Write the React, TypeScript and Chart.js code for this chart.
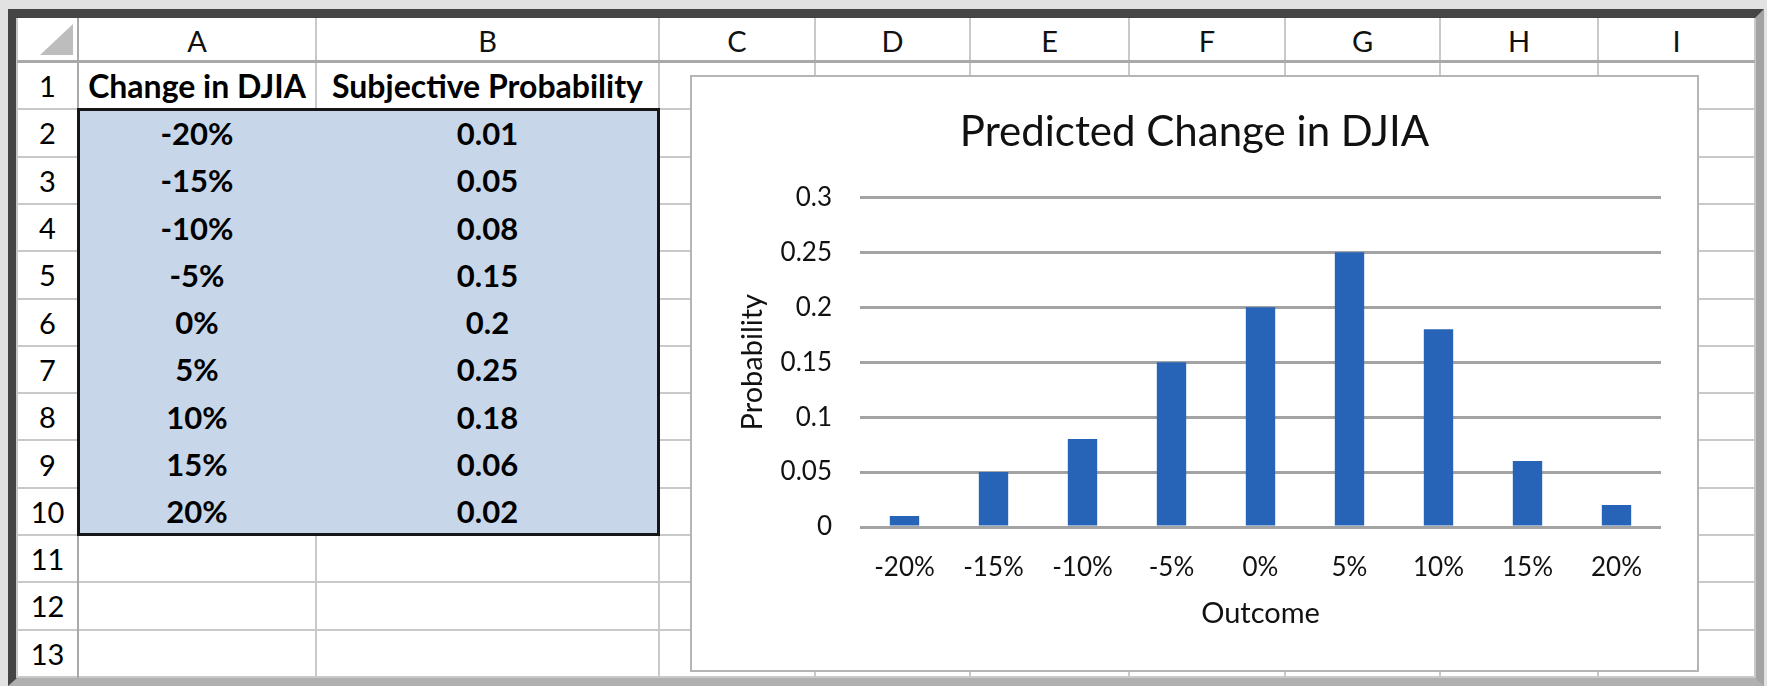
import React, { useEffect, useRef } from "react";
import { Chart, registerables } from "chart.js";

Chart.register(...registerables);

// ---------- data ----------
const outcomes = ["-20%", "-15%", "-10%", "-5%", "0%", "5%", "10%", "15%", "20%"];
const probabilities = [0.01, 0.05, 0.08, 0.15, 0.2, 0.25, 0.18, 0.06, 0.02];
const probabilityText = ["0.01", "0.05", "0.08", "0.15", "0.2", "0.25", "0.18", "0.06", "0.02"];
const yTickValues = [0, 0.05, 0.1, 0.15, 0.2, 0.25, 0.3];
const columnLetters = ["A", "B", "C", "D", "E", "F", "G", "H", "I"];
const rowNumbers = [1, 2, 3, 4, 5, 6, 7, 8, 9, 10, 11, 12, 13];
const headerA = "Change in DJIA";
const headerB = "Subjective Probability";
const chartTitle = "Predicted Change in DJIA";
const xAxisTitle = "Outcome";
const yAxisTitle = "Probability";

// ---------- layout ----------
const FONT = "Lato, 'Open Sans', sans-serif";
const SHEET_LEFT = 17;
const SHEET_RIGHT = 1755;
const SHEET_TOP = 18;
const SHEET_BOTTOM = 678;
const HEADER_BOTTOM = 62;
const ROW_H = 47.3;
const colEdges = [78, 316, 659, 815, 970, 1129, 1285, 1440, 1598, 1755];
const rowEdge = (k: number) => HEADER_BOTTOM + ROW_H * k;

const CHART_LEFT = 690;
const CHART_TOP = 75;
const CHART_W = 1009;
const CHART_H = 597;

function ChartBox() {
  const ref = useRef<HTMLCanvasElement | null>(null);
  useEffect(() => {
    if (!ref.current) return;
    const chart = new Chart(ref.current, {
      type: "bar",
      data: {
        labels: outcomes,
        datasets: [
          {
            data: probabilities,
            backgroundColor: "#2764b7",
            borderWidth: 0,
            barPercentage: 0.33,
            categoryPercentage: 1,
            yAxisID: "y",
          },
        ],
      },
      options: {
        animation: false,
        responsive: false,
        layout: { padding: 0 },
        plugins: {
          legend: { display: false },
          tooltip: { enabled: false },
          title: {
            display: true,
            text: chartTitle,
            color: "#111",
            font: { family: FONT, size: 42, weight: "normal" },
            padding: { top: 32, bottom: 40 },
          },
        },
        scales: {
          x: {
            grid: { display: false, drawTicks: false },
            border: { display: false },
            ticks: {
              color: "#111",
              font: { family: FONT, size: 26 },
              padding: 25,
              maxRotation: 0,
              autoSkip: false,
            },
            title: {
              display: true,
              text: xAxisTitle,
              color: "#111",
              font: { family: FONT, size: 29 },
              padding: { top: 0, bottom: 41 },
            },
            afterFit: (s: any) => {
              s.height = 145;
            },
          },
          y: {
            min: 0,
            max: 0.3,
            afterBuildTicks: (s: any) => {
              s.ticks = yTickValues.map((v) => ({ value: v }));
            },
            ticks: {
              color: "#111",
              font: { family: FONT, size: 26 },
              padding: 28,
              callback: (v: any) => String(Number(Number(v).toFixed(2))),
            },
            grid: { color: "#a3a3a3", lineWidth: 3, drawTicks: false },
            border: { display: false },
            title: {
              display: true,
              text: yAxisTitle,
              color: "#111",
              font: { family: FONT, size: 29 },
              padding: { top: 45, bottom: 0 },
            },
            afterFit: (s: any) => {
              s.width = 170;
            },
          },
          spacer: {
            type: "linear",
            position: "right",
            display: true,
            grid: { display: false, drawTicks: false },
            border: { display: false },
            ticks: { display: false },
            afterFit: (s: any) => {
              s.width = 38;
            },
          },
        },
      },
    });
    return () => chart.destroy();
  }, []);
  return (
    <>
      <canvas
        ref={ref}
        width={CHART_W}
        height={CHART_H}
        style={{
          position: "absolute",
          left: CHART_LEFT,
          top: CHART_TOP,
          width: CHART_W,
          height: CHART_H,
          background: "#fff",
        }}
      />
      <div
        style={{
          position: "absolute",
          left: CHART_LEFT,
          top: CHART_TOP,
          width: CHART_W,
          height: CHART_H,
          boxSizing: "border-box",
          border: "2px solid #b5b5b5",
          pointerEvents: "none",
        }}
      />
    </>
  );
}

function Cell(props: {
  x0: number;
  x1: number;
  y0: number;
  y1: number;
  text: string | number;
  bold?: boolean;
  size?: number;
  color?: string;
}) {
  const { x0, x1, y0, y1, text, bold, size = 28, color = "#000" } = props;
  return (
    <div
      style={{
        position: "absolute",
        left: x0,
        top: y0,
        width: x1 - x0,
        height: y1 - y0,
        display: "flex",
        alignItems: "center",
        justifyContent: "center",
        fontFamily: FONT,
        fontWeight: bold ? 700 : 400,
        fontSize: size,
        color,
        whiteSpace: "nowrap",
      }}
    >
      {text}
    </div>
  );
}

export default function App() {
  const vLines = [SHEET_LEFT, ...colEdges];
  const hLines = rowNumbers.map((_, i) => rowEdge(i + 1));
  return (
    <div
      style={{
        position: "fixed",
        left: 0,
        top: 0,
        width: 1767,
        height: 686,
        background: "#e2e2e2",
        overflow: "hidden",
      }}
    >
      {/* frame */}
      <div
        style={{
          position: "absolute",
          left: 8,
          top: 9,
          width: SHEET_RIGHT - 8 + 9,
          height: SHEET_BOTTOM - 9 + 8,
          boxSizing: "border-box",
          borderTop: "9px solid #454545",
          borderLeft: "9px solid #454545",
          borderRight: "9px solid #a3a3a3",
          borderBottom: "8px solid #b0b0b0",
          background: "#fff",
        }}
      />
      {/* sheet gridlines */}
      {hLines.map((y, i) => (
        <div
          key={"h" + i}
          style={{
            position: "absolute",
            left: SHEET_LEFT,
            top: y - 1,
            width: SHEET_RIGHT - SHEET_LEFT,
            height: 2,
            background: "#c9c9c9",
          }}
        />
      ))}
      {vLines.map((x, i) => (
        <div
          key={"v" + i}
          style={{
            position: "absolute",
            left: x - 1,
            top: SHEET_TOP,
            width: 2,
            height: SHEET_BOTTOM - SHEET_TOP,
            background: i === 1 ? "#a9a9a9" : "#c9c9c9",
          }}
        />
      ))}
      {/* header row bottom */}
      <div
        style={{
          position: "absolute",
          left: SHEET_LEFT,
          top: HEADER_BOTTOM - 2,
          width: SHEET_RIGHT - SHEET_LEFT,
          height: 3,
          background: "#a9a9a9",
        }}
      />
      {/* select-all triangle */}
      <div
        style={{
          position: "absolute",
          left: 40,
          top: 24,
          width: 33,
          height: 31,
          background: "#bdbdbd",
          clipPath: "polygon(100% 0, 100% 100%, 0 100%)",
        }}
      />
      {/* column letters */}
      {columnLetters.map((c, i) => (
        <Cell
          key={"c" + c}
          x0={colEdges[i]}
          x1={colEdges[i + 1]}
          y0={SHEET_TOP}
          y1={HEADER_BOTTOM}
          text={c}
          size={29}
          color="#111"
        />
      ))}
      {/* row numbers */}
      {rowNumbers.map((r, i) => (
        <Cell
          key={"r" + r}
          x0={SHEET_LEFT}
          x1={colEdges[0]}
          y0={rowEdge(i)}
          y1={rowEdge(i + 1)}
          text={r}
          size={29}
          color="#000"
        />
      ))}
      {/* header cells */}
      <Cell x0={colEdges[0]} x1={colEdges[1]} y0={rowEdge(0)} y1={rowEdge(1)} text={headerA} bold size={32} />
      <Cell x0={colEdges[1]} x1={colEdges[2]} y0={rowEdge(0)} y1={rowEdge(1)} text={headerB} bold size={32} />
      {/* blue data table */}
      <div
        style={{
          position: "absolute",
          left: colEdges[0] - 1,
          top: rowEdge(1) - 1,
          width: colEdges[2] - colEdges[0] + 2,
          height: rowEdge(10) - rowEdge(1) + 2,
          boxSizing: "border-box",
          border: "3px solid #161616",
          background: "#c7d7e9",
        }}
      />
      {outcomes.map((o, i) => (
        <Cell key={"a" + i} x0={colEdges[0]} x1={colEdges[1]} y0={rowEdge(i + 1)} y1={rowEdge(i + 2)} text={o} bold size={31} />
      ))}
      {probabilityText.map((p, i) => (
        <Cell key={"b" + i} x0={colEdges[1]} x1={colEdges[2]} y0={rowEdge(i + 1)} y1={rowEdge(i + 2)} text={p} bold size={31} />
      ))}
      <ChartBox />
    </div>
  );
}
